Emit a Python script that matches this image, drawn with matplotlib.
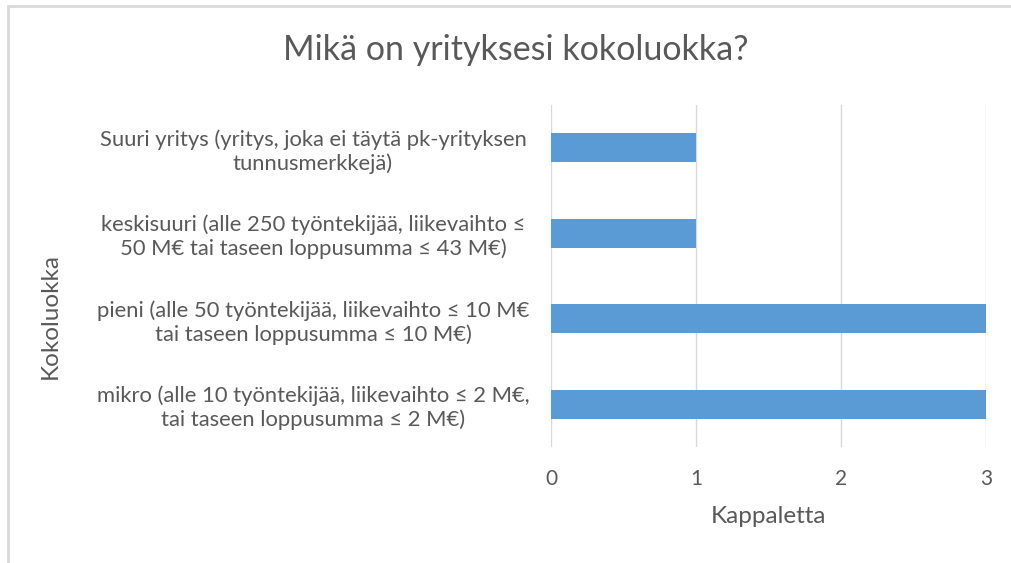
import matplotlib.pyplot as plt
from matplotlib.patches import Rectangle

# categories bottom to top
categories = [
    "mikro (alle 10 työntekijää, liikevaihto ≤ 2 M€,\ntai taseen loppusumma ≤ 2 M€)",
    "pieni (alle 50 työntekijää, liikevaihto ≤ 10 M€\ntai taseen loppusumma ≤ 10 M€)",
    "keskisuuri (alle 250 työntekijää, liikevaihto ≤\n50 M€ tai taseen loppusumma ≤ 43 M€)",
    "Suuri yritys (yritys, joka ei täytä pk-yrityksen\ntunnusmerkkejä)",
]
values = [3, 3, 1, 1]
xticks = [0, 1, 2, 3]

text_col = "#595959"
bar_col = "#5B9BD5"
grid_col = "#D9D9D9"

plt.rcParams['font.family'] = ['Lato', 'DejaVu Sans']

fig = plt.figure(figsize=(10.11, 5.63), dpi=100)
ax = fig.add_axes([551 / 1011, 1 - 447 / 563, (986 - 551) / 1011, (447 - 105) / 563])

pos = list(range(len(categories)))
ax.barh(pos, values, height=0.345, color=bar_col, zorder=2)
ax.set_ylim(-0.5, len(categories) - 0.5)
ax.set_xlim(0, 3)
ax.set_xticks(xticks)
ax.set_yticks(pos)
ax.set_yticklabels(categories, ha="center", multialignment="center",
                   fontsize=15.8, color=text_col, linespacing=1.2)
# pad in points: label centre at ~313 px
ax.tick_params(axis="y", length=0, pad=(551 - 313) * 0.72)
ax.tick_params(axis="x", length=0, pad=16, labelsize=15, labelcolor=text_col)
ax.grid(axis="x", color=grid_col, linewidth=1, zorder=0)
for s in ax.spines.values():
    s.set_visible(False)

ax.set_xlabel("Kappaletta", fontsize=17.5, color=text_col, labelpad=12)
fig.text(50 / 1011, 1 - 316 / 563, "Kokoluokka", rotation=90, fontsize=17.5,
         color=text_col, ha="center", va="center")
fig.text(516 / 1011, 1 - 50 / 563, "Mikä on yrityksesi kokoluokka?", fontsize=24.5,
         color=text_col, ha="center", va="center")

# chart frame
fig.patches.append(Rectangle((8 / 1011, -0.1), 1.2, 1 - 6 / 563 + 0.1,
                             transform=fig.transFigure, fill=False,
                             edgecolor="#D9D9D9", linewidth=2))

fig.savefig("out.png", dpi=100)
